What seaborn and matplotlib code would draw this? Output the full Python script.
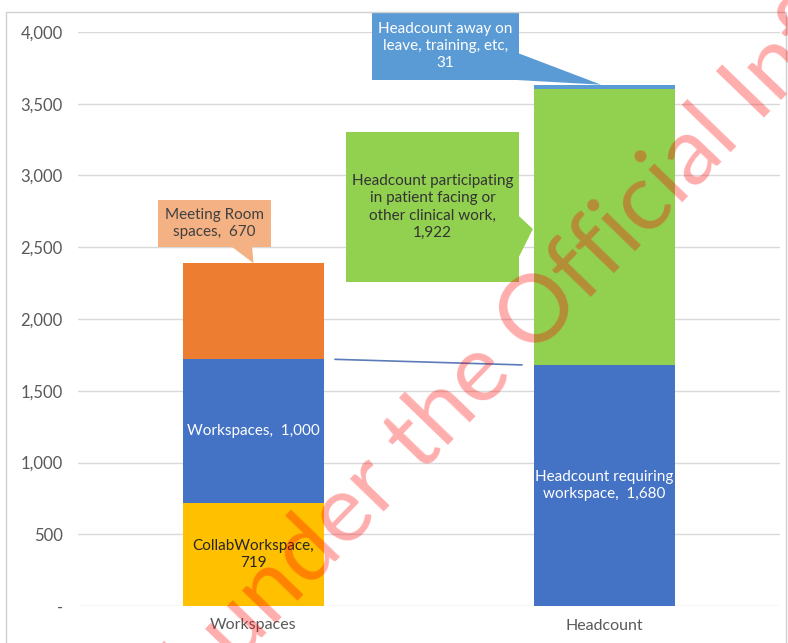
import numpy as np
import pandas as pd
import matplotlib
matplotlib.use("Agg")
import matplotlib.pyplot as plt
import seaborn as sns
from matplotlib.patches import Rectangle, Polygon
from matplotlib.ticker import FuncFormatter

# ------------------------------------------------------------
# data
# ------------------------------------------------------------
categories = ["Workspaces", "Headcount"]
bottom_vals = [719, 1680]     # CollabWorkspace / Headcount requiring workspace
middle_vals = [1000, 1922]    # Workspaces / Headcount participating in clinical work
top_vals = [670, 31]          # Meeting Room spaces / Headcount away on leave

bottom_colors = ["#FFC000", "#4472C4"]
middle_colors = ["#4472C4", "#92D050"]
top_colors = ["#ED7D31", "#5B9BD5"]

sns.set_theme(style="white")
plt.rcParams["font.family"] = ["Lato", "DejaVu Sans"]

df = pd.DataFrame({"cat": categories, "b": bottom_vals, "m": middle_vals, "t": top_vals})
df["lvl1"] = df["b"]
df["lvl2"] = df["b"] + df["m"]
df["lvl3"] = df["lvl2"] + df["t"]

fig = plt.figure(figsize=(7.88, 6.43), dpi=100)
ax = fig.add_axes([78 / 788, 1 - 606 / 643, 702 / 788, 574 / 643])

# stacked bars: draw cumulative totals tallest first
for col, pal in [("lvl3", top_colors), ("lvl2", middle_colors), ("lvl1", bottom_colors)]:
    sns.barplot(data=df, x="cat", y=col, hue="cat", palette=pal, width=0.4,
                saturation=1, errorbar=None, legend=False, linewidth=0,
                ax=ax, zorder=2)

ax.set_xlim(-0.5, 1.5)
ax.set_ylim(0, 4000)
ax.set_yticks(np.arange(0, 4001, 500))
ax.yaxis.set_major_formatter(FuncFormatter(lambda v, p: "-" if v == 0 else f"{v:,.0f}"))
ax.grid(axis="y", color="#D9D9D9", linewidth=1)
ax.set_axisbelow(True)
for s in ax.spines.values():
    s.set_visible(False)
ax.set_xlabel("")
ax.set_ylabel("")
ax.tick_params(axis="both", length=0, labelsize=12, labelcolor="#595959")
ax.tick_params(axis="y", pad=11)
ax.tick_params(axis="x", pad=9, labelsize=11.5)

# series line between the blue segments
ax.plot([0.232, 0.765], [df["lvl2"][0], df["lvl1"][1]], color="#5B7CB8", lw=1.2, zorder=3)

# labels inside bars
ax.text(0, df["b"][0] + df["m"][0] / 2, "Workspaces,  1,000", ha="center", va="center",
        color="white", fontsize=11, zorder=5)
ax.text(0, df["b"][0] / 2, "CollabWorkspace,\n719", ha="center", va="center",
        color="#262626", fontsize=11, zorder=5, linespacing=1.3)
ax.text(1, df["b"][1] / 2, "Headcount requiring\nworkspace,  1,680", ha="center", va="center",
        color="white", fontsize=11, zorder=5, linespacing=1.3)


def callout(box, pointer, color, text, tcolor):
    x0, y0, x1, y1 = box
    ax.add_patch(Rectangle((x0, y0), x1 - x0, y1 - y0, fc=color, ec="none",
                           clip_on=False, zorder=4))
    ax.add_patch(Polygon(pointer, closed=True, fc=color, ec="none",
                         clip_on=False, zorder=4))
    ax.text((x0 + x1) / 2, (y0 + y1) / 2, text, ha="center", va="center",
            color=tcolor, fontsize=11, zorder=5, linespacing=1.3)


tot_ws = df["lvl3"][0]
tot_hc = df["lvl3"][1]

callout((-0.272, 2502, 0.050, 2829),
        [(-0.061, 2502), (-0.004, 2502), (0.0, tot_ws)],
        "#F4B183", "Meeting Room\nspaces,  670", "#404040")

callout((0.338, 3666, 0.756, 4140),
        [(0.745, 3861), (0.745, 3666), (0.99, tot_hc)],
        "#5B9BD5", "Headcount away on\nleave, training, etc,\n31", "white")

callout((0.264, 2258, 0.756, 3303),
        [(0.756, 2718), (0.796, 2627), (0.756, 2432)],
        "#92D050", "Headcount participating\nin patient facing or\nother clinical work,\n1,922", "#333333")

# chart area border
fig.patches.append(Rectangle((6 / 788, -0.01), 780 / 788, (643 - 12) / 643 + 0.01,
                             transform=fig.transFigure, fill=False,
                             ec="#D0D0D0", lw=1))

# watermark
fig.text(568 / 788, 1 - 283 / 643, "Released under the Official Information Act",
         rotation=46, rotation_mode="anchor", ha="center", va="center",
         fontsize=68, color="red", alpha=0.32, zorder=10)

fig.savefig("out.png", dpi=100)
